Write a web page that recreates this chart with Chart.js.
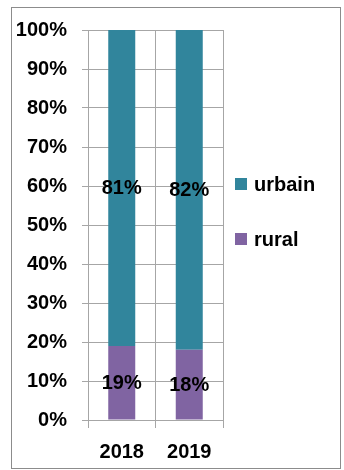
<!DOCTYPE html>
<html>
<head>
<meta charset="utf-8">
<script src="https://cdn.jsdelivr.net/npm/chart.js@4"></script>
<style>
  html, body { margin: 0; padding: 0; background: #fff; }
  #wrap { position: relative; width: 344px; height: 470px; }
  #frame {
    position: absolute; left: 11px; top: 7px; width: 328px; height: 460px;
    border: 1px solid #8c8c8c; pointer-events: none;
  }
</style>
</head>
<body>
<div id="wrap">
  <canvas id="chart" width="344" height="470"></canvas>
  <div id="frame"></div>
</div>
<script>
const years = ['2018', '2019'];
const rural = [19, 18];
const urbain = [81, 82];
const yTicks = [0, 10, 20, 30, 40, 50, 60, 70, 80, 90, 100];

const FONT = '"Liberation Sans", Arial, sans-serif';
const TEAL = '#31859C';
const PURPLE = '#8064A2';
const GRID = '#a6a6a6';

// percentage text in the middle of each bar segment
const segmentLabels = {
  id: 'segmentLabels',
  afterDatasetsDraw(chart) {
    const ctx = chart.ctx;
    ctx.save();
    ctx.font = 'bold 20px ' + FONT;
    ctx.fillStyle = '#000';
    ctx.textAlign = 'center';
    ctx.textBaseline = 'middle';
    chart.data.datasets.forEach((ds, i) => {
      chart.getDatasetMeta(i).data.forEach((bar, j) => {
        const mid = (bar.y + bar.base) / 2;
        ctx.fillText(ds.data[j] + '%', bar.x, mid + 1);
      });
    });
    ctx.restore();
  }
};

// legend to the right of the plot, urbain on top
const sideLegend = {
  id: 'sideLegend',
  afterDraw(chart) {
    const ctx = chart.ctx;
    const x = chart.chartArea.right + 12;
    const rows = [
      { ds: chart.data.datasets[1], y: 184 },
      { ds: chart.data.datasets[0], y: 239 }
    ];
    ctx.save();
    ctx.font = 'bold 20px ' + FONT;
    ctx.textBaseline = 'middle';
    rows.forEach(r => {
      ctx.fillStyle = r.ds.backgroundColor;
      ctx.fillRect(x, r.y - 6, 12, 12);
      ctx.fillStyle = '#000';
      ctx.fillText(r.ds.label, x + 19, r.y + 1);
    });
    ctx.restore();
  }
};

new Chart(document.getElementById('chart'), {
  type: 'bar',
  data: {
    labels: years,
    datasets: [
      { label: 'rural', data: rural, backgroundColor: PURPLE },
      { label: 'urbain', data: urbain, backgroundColor: TEAL }
    ]
  },
  options: {
    responsive: false,
    animation: false,
    layout: { padding: { left: 12, top: 30, right: 121, bottom: 0 } },
    datasets: { bar: { categoryPercentage: 1, barPercentage: 0.4 } },
    plugins: {
      legend: { display: false },
      tooltip: { enabled: false }
    },
    scales: {
      x: {
        stacked: true,
        offset: true,
        grid: { offset: true, color: GRID, tickLength: 8, drawOnChartArea: true },
        border: { color: GRID },
        ticks: { color: '#000', font: { family: FONT, size: 20, weight: 'bold' }, padding: 12 },
        afterFit(scale) { scale.height = 50; }
      },
      y: {
        stacked: true,
        min: 0,
        max: 100,
        afterBuildTicks(scale) { scale.ticks = yTicks.map(v => ({ value: v })); },
        grid: { color: GRID, tickLength: 6 },
        border: { color: GRID },
        ticks: {
          color: '#000',
          font: { family: FONT, size: 20, weight: 'bold' },
          padding: 15,
          callback: v => v + '%'
        },
        afterFit(scale) { scale.width = 76; }
      }
    }
  },
  plugins: [segmentLabels, sideLegend]
});
</script>
</body>
</html>
